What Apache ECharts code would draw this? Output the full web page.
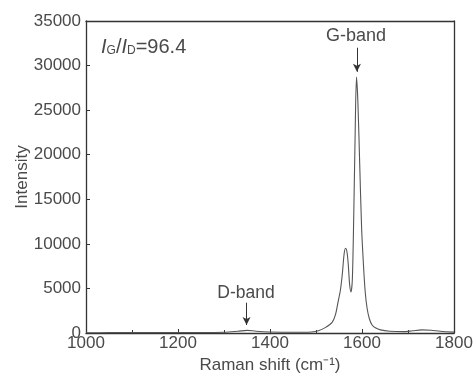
<!DOCTYPE html>
<html><head><meta charset="utf-8">
<script src="https://cdn.jsdelivr.net/npm/echarts@6/dist/echarts.min.js"></script>
<style>html,body{margin:0;padding:0;background:#fff}#c{width:476px;height:378px}</style>
</head><body><div id="c"></div>
<script>
const ramanShift = [1000,1050,1100,1150,1200,1250,1300,1330,1350,1370,1400,1450,1490,1505,1520,1535,1542,1548,1553,1557,1561,1564,1567,1570,1573,1576,1579,1582,1585,1588,1591,1595,1599,1603,1607,1611,1616,1622,1630,1640,1660,1690,1710,1730,1750,1770,1800];
const intensity = [30,40,50,40,50,50,80,200,300,200,120,80,120,250,600,1200,2000,3500,4800,6500,8800,9500,9200,7800,5500,4600,6000,13000,22000,28700,26000,19000,12000,7800,4600,2800,1600,900,550,350,200,150,250,350,300,200,100];
const xTicks = [1000,1200,1400,1600,1800];
const yTicks = [0,5000,10000,15000,20000,25000,30000,35000];
const dArrow = [[1349,3400],[1349,900]];
const gArrow = [[1589,32000],[1589,29300]];

const data = ramanShift.map((x,i)=>[x,intensity[i]]);
const font = 'Liberation Sans, Arial, sans-serif';
const ax = '#4a4a4a';
const chart = echarts.init(document.getElementById('c'));
chart.setOption({
  animation:false,
  grid:{left:86,right:22,top:21,bottom:45,show:false,outerBoundsMode:'none',containLabel:false},
  xAxis:[{type:'value',min:xTicks[0],max:xTicks[xTicks.length-1],interval:200,
    name:'Raman shift (cm\u207B\u00B9)',nameLocation:'middle',nameGap:24,nameMoveOverlap:false,
    nameTextStyle:{color:ax,fontSize:17,fontFamily:font},
    axisLine:{onZero:false,lineStyle:{color:'#333',width:1.3}},
    axisTick:{inside:true,length:4,lineStyle:{color:'#333'}},
    minorTick:{show:true,splitNumber:2,length:3,lineStyle:{color:'#333'}},
    axisLabel:{color:ax,fontSize:17,fontFamily:font,margin:2,formatter:v=>String(v)},
    splitLine:{show:false}},
   {type:'value',position:'top',min:xTicks[0],max:xTicks[xTicks.length-1],
    axisLine:{show:true,onZero:false,lineStyle:{color:'#333',width:1.3}},
    axisTick:{show:false},axisLabel:{show:false},splitLine:{show:false}}],
  yAxis:[{type:'value',min:yTicks[0],max:yTicks[yTicks.length-1],interval:5000,
    name:'Intensity',nameLocation:'middle',nameGap:55,nameMoveOverlap:false,
    nameTextStyle:{color:ax,fontSize:17,fontFamily:font},
    axisLine:{show:true,onZero:false,lineStyle:{color:'#333',width:1.3}},
    axisTick:{show:true,inside:true,length:4,lineStyle:{color:'#333'}},
    axisLabel:{color:ax,fontSize:17,fontFamily:font,margin:5,formatter:v=>String(v)},
    splitLine:{show:false}},
   {type:'value',position:'right',min:yTicks[0],max:yTicks[yTicks.length-1],
    axisLine:{show:true,onZero:false,lineStyle:{color:'#333',width:1.3}},
    axisTick:{show:false},axisLabel:{show:false},splitLine:{show:false}}],
  series:[{type:'line',data:data,smooth:0.3,symbol:'none',
    lineStyle:{color:'#555',width:1.1},
    markLine:{silent:true,symbol:['none','arrow'],symbolSize:[6,8],
      lineStyle:{color:'#333',width:1,type:'solid'},label:{show:false},
      data:[[{coord:dArrow[0]},{coord:dArrow[1]}],[{coord:gArrow[0]},{coord:gArrow[1]}]]}
  }],
  graphic:[
    {type:'text',x:246,y:284,style:{text:'D-band',fill:ax,font:'17.5px '+font,textAlign:'center',textVerticalAlign:'top'}},
    {type:'text',x:356,y:27,style:{text:'G-band',fill:ax,font:'18px '+font,textAlign:'center',textVerticalAlign:'top'}},
    {type:'text',x:101,y:37,style:{
      text:'{i|I}{s|G}{n|/}{i|I}{s|D}{n|=96.4}',
      rich:{i:{fontStyle:'italic',fontSize:20,fontFamily:font,fill:ax,verticalAlign:'bottom'},
            s:{fontSize:12,fontFamily:font,fill:ax,verticalAlign:'bottom'},
            n:{fontSize:20,fontFamily:font,fill:ax,verticalAlign:'bottom'}}}}
  ]
});
</script></body></html>
